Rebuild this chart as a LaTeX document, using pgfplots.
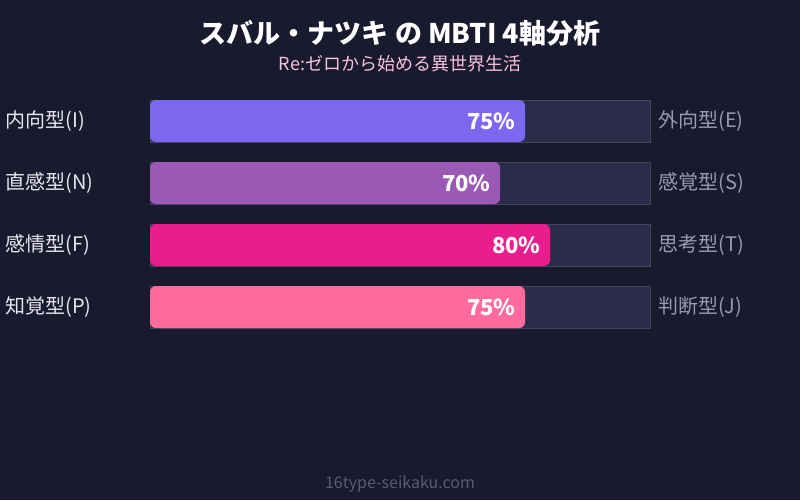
\documentclass[border=0pt]{standalone}
\usepackage{fontspec}
\setmainfont{Noto Sans CJK JP}
\usepackage{pgfplots}
\pgfplotsset{compat=1.18}
\definecolor{bgcol}{HTML}{1A1A2E}
\definecolor{trackcol}{HTML}{2D2B4A}
\definecolor{trackline}{HTML}{45445F}
\definecolor{barA}{HTML}{7B68EE}
\definecolor{barB}{HTML}{9B59B6}
\definecolor{barC}{HTML}{E91E8C}
\definecolor{barD}{HTML}{FF6B9D}
\definecolor{lefttxt}{HTML}{E6E6F0}
\definecolor{righttxt}{HTML}{9A9AB0}
\definecolor{subtxt}{HTML}{F5C2DD}
\definecolor{foottxt}{HTML}{5A5A75}

\begin{document}
\begin{tikzpicture}
\begin{axis}[
    scale only axis,
    width=400pt, height=250pt,
    xmin=-30, xmax=130,
    ymin=-1.952, ymax=6.113,
    y dir=reverse,
    axis background/.style={fill=bgcol},
    axis line style={draw=none},
    ticks=none,
    clip=false,
    xbar,
    bar width=21pt,
    /pgf/number format/assume math mode=true,
]
% tracks (100%)
\addplot[bar shift=0pt, fill=trackcol, draw=trackline, line width=0.4pt]
    coordinates {(100,0) (100,1) (100,2) (100,3)};
% values
\pgfplotsset{pct/.style={
    bar shift=0pt, draw=none, rounded corners=3pt,
    nodes near coords={\pgfmathprintnumber{\pgfplotspointmeta}\%},
    nodes near coords style={anchor=east, xshift=-1.2pt, text=white,
        font=\fontsize{11}{13}\selectfont\bfseries, rounded corners=0pt}}}
\addplot[pct, fill=barA] coordinates {(75,0)};
\addplot[pct, fill=barB] coordinates {(70,1)};
\addplot[pct, fill=barC] coordinates {(80,2)};
\addplot[pct, fill=barD] coordinates {(75,3)};

% left labels
\begin{scope}[every node/.style={anchor=west, text=lefttxt, font=\fontsize{10}{12}\selectfont, inner sep=0pt}]
\node at (axis cs:-29,0) {内向型(I)};
\node at (axis cs:-29,1) {直感型(N)};
\node at (axis cs:-29,2) {感情型(F)};
\node at (axis cs:-29,3) {知覚型(P)};
\end{scope}
% right labels
\begin{scope}[every node/.style={anchor=west, text=righttxt, font=\fontsize{10}{12}\selectfont, inner sep=0pt}]
\node at (axis cs:101.6,0) {外向型(E)};
\node at (axis cs:101.6,1) {感覚型(S)};
\node at (axis cs:101.6,2) {思考型(T)};
\node at (axis cs:101.6,3) {判断型(J)};
\end{scope}

\node[text=white, font=\fontsize{13.5}{16}\selectfont\bfseries] at (axis cs:50,-1.419) {スバル・ナツキ の MBTI 4軸分析};
\node[text=subtxt, font=\fontsize{9}{11}\selectfont] at (axis cs:50,-0.919) {Re:ゼロから始める異世界生活};
\node[text=foottxt, font=\fontsize{8}{10}\selectfont] at (axis cs:50,5.855) {16type-seikaku.com};
\end{axis}
\end{tikzpicture}
\end{document}
